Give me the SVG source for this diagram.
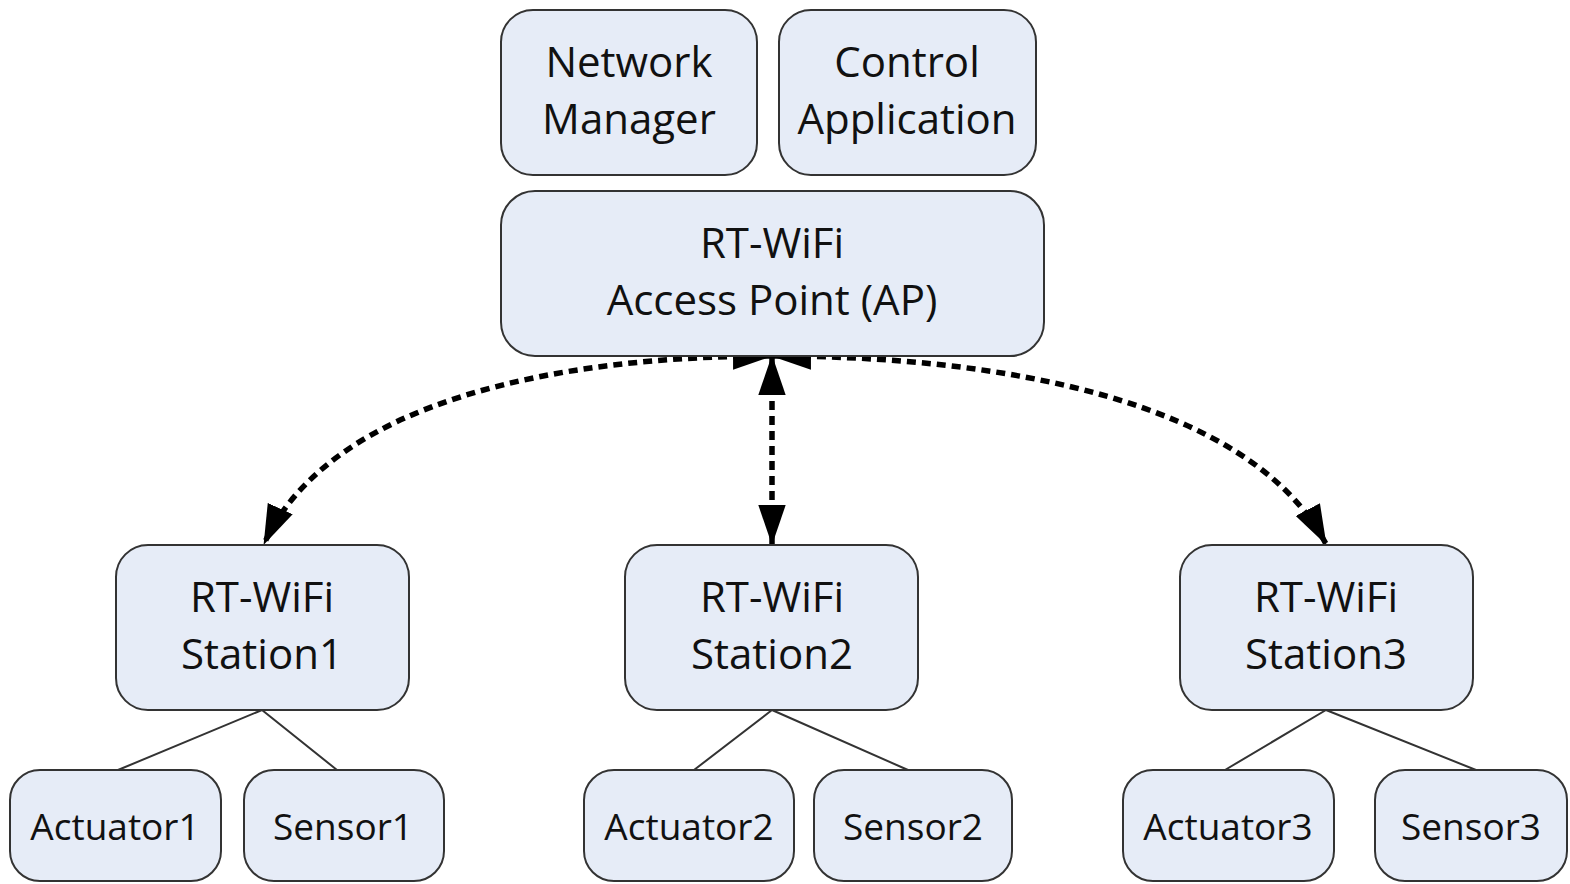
<svg xmlns="http://www.w3.org/2000/svg" width="1570" height="884" viewBox="0 0 1570 884">
<style>
.box{fill:#e6ecf7;stroke:#333;stroke-width:2}
.t{font-family:"Open Sans","Noto Sans",sans-serif;font-size:42px;fill:#111;text-anchor:middle}
.s{font-family:"Open Sans","Noto Sans",sans-serif;font-size:37px;fill:#111;text-anchor:middle}
.dash{fill:none;stroke:#000;stroke-width:5.5;stroke-dasharray:9 6;marker-start:url(#ah);marker-end:url(#ah)}
.tree{fill:none;stroke:#333;stroke-width:2}
</style>
<defs>
<marker id="ah" markerUnits="userSpaceOnUse" markerWidth="40" markerHeight="28" viewBox="0 0 38 26" refX="37" refY="13" orient="auto-start-reverse">
<path d="M0,0 L38,13 L0,26 z" fill="#000"/>
</marker>
</defs>
<rect width="1570" height="884" fill="#fff"/>
<g id="connectors">
<path class="dash" d="M772,356 C560,356 330,400 264,544"/>
<path class="dash" d="M772,356 L772,544"/>
<path class="dash" d="M772,356 C1000,356 1250,400 1326,544"/>
<path class="tree" d="M262,710 L118,770 M262,710 L337,770"/>
<path class="tree" d="M772,710 L694,770 M772,710 L908,770"/>
<path class="tree" d="M1326,710 L1225,770 M1326,710 L1476,770"/>
</g>
<g id="network-manager">
<rect class="box" x="501" y="10" width="256" height="165" rx="32"/>
<text class="t" x="629" y="77">Network</text>
<text class="t" x="629" y="134">Manager</text>
</g>
<g id="control-application">
<rect class="box" x="779" y="10" width="257" height="165" rx="32"/>
<text class="t" x="907" y="77">Control</text>
<text class="t" x="907" y="134">Application</text>
</g>
<g id="ap">
<rect class="box" x="501" y="191" width="543" height="165" rx="34"/>
<text class="t" x="772" y="258">RT-WiFi</text>
<text class="t" x="772" y="315">Access Point (AP)</text>
</g>
<g id="station1">
<rect class="box" x="116" y="545" width="293" height="165" rx="32"/>
<text class="t" x="262" y="612">RT-WiFi</text>
<text class="t" x="262" y="669">Station1</text>
</g>
<g id="station2">
<rect class="box" x="625" y="545" width="293" height="165" rx="32"/>
<text class="t" x="772" y="612">RT-WiFi</text>
<text class="t" x="772" y="669">Station2</text>
</g>
<g id="station3">
<rect class="box" x="1180" y="545" width="293" height="165" rx="32"/>
<text class="t" x="1326" y="612">RT-WiFi</text>
<text class="t" x="1326" y="669">Station3</text>
</g>
<g id="actuator1">
<rect class="box" x="10" y="770" width="211" height="111" rx="30"/>
<text class="s" x="115" y="840">Actuator1</text>
</g>
<g id="sensor1">
<rect class="box" x="244" y="770" width="200" height="111" rx="30"/>
<text class="s" x="343" y="840">Sensor1</text>
</g>
<g id="actuator2">
<rect class="box" x="584" y="770" width="210" height="111" rx="30"/>
<text class="s" x="689" y="840">Actuator2</text>
</g>
<g id="sensor2">
<rect class="box" x="814" y="770" width="198" height="111" rx="30"/>
<text class="s" x="913" y="840">Sensor2</text>
</g>
<g id="actuator3">
<rect class="box" x="1123" y="770" width="211" height="111" rx="30"/>
<text class="s" x="1228" y="840">Actuator3</text>
</g>
<g id="sensor3">
<rect class="box" x="1375" y="770" width="192" height="111" rx="30"/>
<text class="s" x="1471" y="840">Sensor3</text>
</g>
</svg>
